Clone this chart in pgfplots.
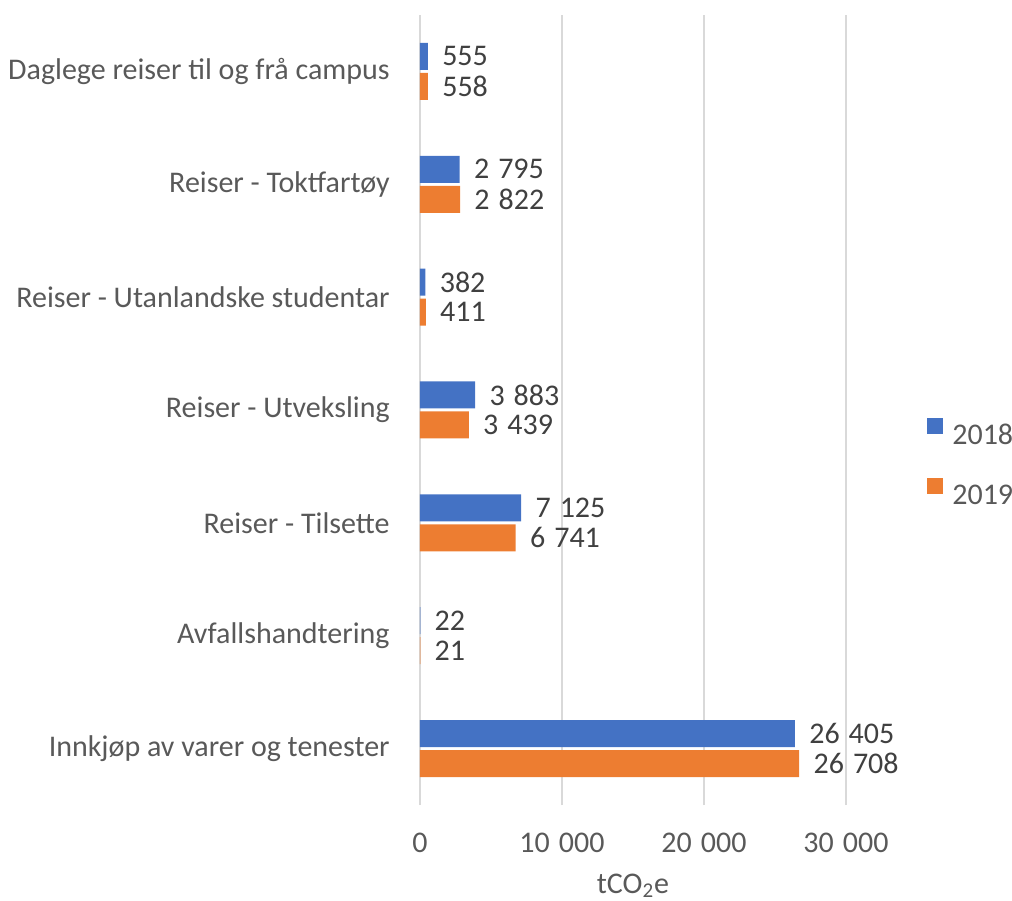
\documentclass[border=0pt]{standalone}
\usepackage{fontspec}
\setmainfont{Carlito}
\usepackage{pgfplots}
\pgfplotsset{compat=1.18}
\definecolor{blue18}{HTML}{4472C4}
\definecolor{orange19}{HTML}{ED7D31}
\definecolor{gridgray}{HTML}{D9D9D9}
\definecolor{labelgray}{HTML}{595959}
\definecolor{valgray}{HTML}{404040}
\newcommand{\chartfont}{\fontsize{15}{18}\selectfont}

\begin{document}
\chartfont
\begin{tikzpicture}
  \begin{axis}[
      name=ax,
      scale only axis,
      width=213pt, height=395pt,
      xbar, bar width=13.5pt,
      xmin=0, xmax=30000,
      ymin=-0.5, ymax=6.5,
      ytick={0,...,6},
      yticklabels={Innkjøp av varer og tenester, Avfallshandtering, Reiser - Tilsette,
          Reiser - Utveksling, Reiser - Utanlandske studentar, Reiser - Toktfartøy,
          Daglege reiser til og frå campus},
      xtick={0,10000,20000,30000},
      scaled x ticks=false,
      xmajorgrids,
      grid style={gridgray, line width=0.8pt},
      axis line style={draw=none},
      major tick length=0pt,
      /pgf/number format/assume math mode=true,
      /pgf/number format/1000 sep={\hspace{0.3em}},
      tick label style={font=\chartfont, text=labelgray},
      xticklabel style={anchor=base, inner sep=0pt, yshift=-23.5pt},
      yticklabel style={anchor=east, inner sep=0pt, xshift=-15pt},
      xlabel={tCO\textsubscript{2}e},
      xlabel style={at={(rel axis cs:0.5,0)}, anchor=base, inner sep=0pt, yshift=-44pt,
          text=labelgray, font=\chartfont},
      nodes near coords,
      every node near coord/.append style={anchor=west, inner sep=0pt, xshift=7pt,
          text=valgray, font=\chartfont},
      clip=false,
      legend style={at={(rel axis cs:1.19,0.435)}, anchor=west, draw=none, fill=none,
          inner sep=0pt, row sep=17pt, column sep=4.5pt, font=\chartfont, text=labelgray,
          nodes={inner sep=0pt, text height=9pt, text depth=0pt}},
      legend image code/.code={\fill[#1] (0pt,0.5pt) rectangle (8pt,8.5pt);},
    ]
    \addplot[fill=blue18, draw=none, bar shift=7.5pt] coordinates {
        (26405,0) (22,1) (7125,2) (3883,3) (382,4) (2795,5) (555,6)
      };
    \addlegendentry{2018}
    \addplot[fill=orange19, draw=none, bar shift=-7.5pt] coordinates {
        (26708,0) (21,1) (6741,2) (3439,3) (411,4) (2822,5) (558,6)
      };
    \addlegendentry{2019}
  \end{axis}
  \pgfresetboundingbox
  \path[use as bounding box] ([shift={(-210pt,-47.5pt)}]ax.south west)
    rectangle ([shift={(83pt,7.5pt)}]ax.north east);
\end{tikzpicture}
\end{document}
